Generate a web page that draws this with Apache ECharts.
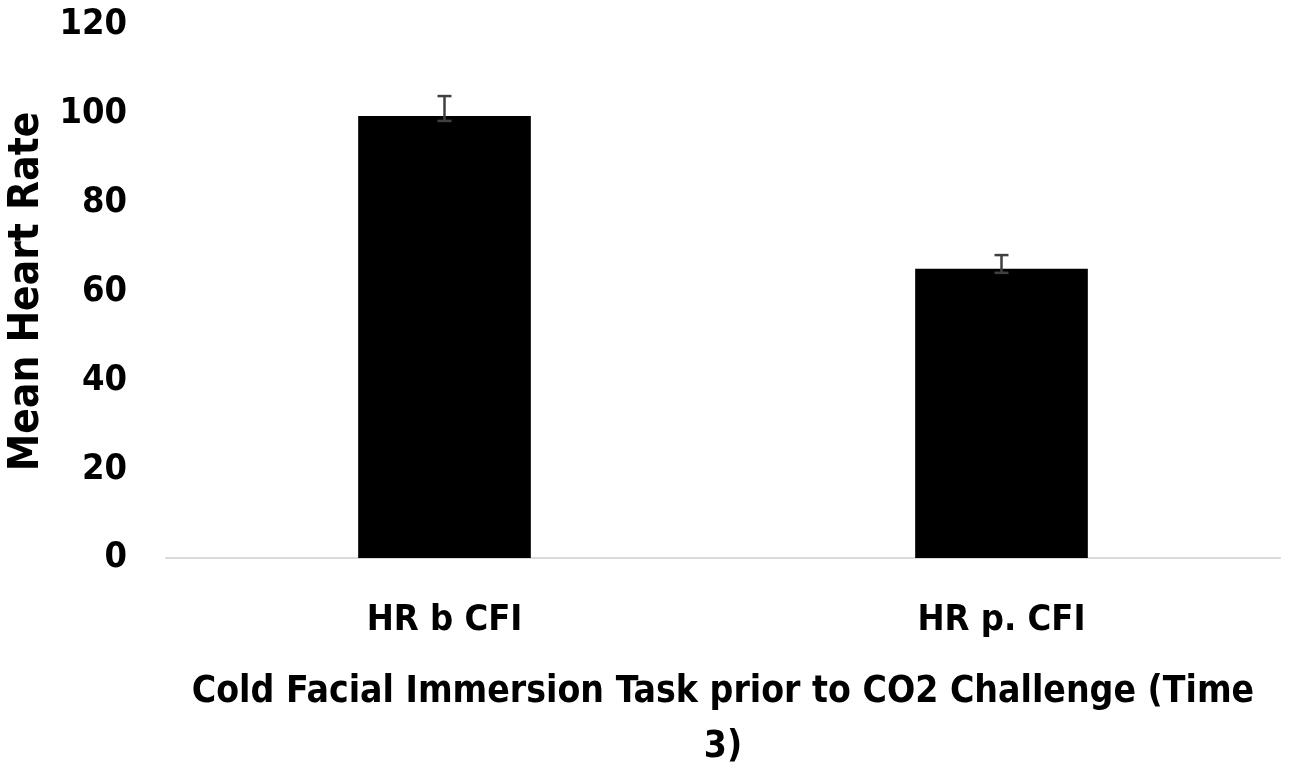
<!DOCTYPE html>
<html>
<head>
<meta charset="utf-8">
<script src="https://cdn.jsdelivr.net/npm/echarts@6/dist/echarts.min.js"></script>
<style>
  html, body { margin: 0; padding: 0; background: #fff; }
  #chart { width: 1299px; height: 782px; }
</style>
</head>
<body>
<div id="chart"></div>
<script>
const categories = ["HR b CFI", "HR p. CFI"];
const meanHR = [99.5, 65.1];
const errHigh = [104, 68.2];
const errLow = [98.4, 64.2];
const yTicks = [0, 20, 40, 60, 80, 100, 120];

const font = "'Liberation Sans Narrow', 'DejaVu Sans Condensed', sans-serif";

const chart = echarts.init(document.getElementById("chart"));

const opt = {
  animation: false,
  grid: {
    left: 166,
    right: 19,
    top: 25,
    bottom: 224,
    outerBoundsMode: "none",
  },
  xAxis: {
    type: "category",
    data: categories,
    name: "Cold Facial Immersion Task prior to CO2 Challenge (Time\n3)",
    nameLocation: "middle",
    nameGap: 107,
    nameTextStyle: {
      color: "#000",
      fontFamily: font,
      fontWeight: "bold",
      fontSize: 37,
      lineHeight: 55,
    },
    axisLine: { lineStyle: { color: "#d9d9d9", width: 2 } },
    axisTick: { show: false },
    axisLabel: {
      color: "#000",
      fontFamily: font,
      fontWeight: "bold",
      fontSize: 36,
      margin: 45,
    },
  },
  yAxis: {
    type: "value",
    min: yTicks[0],
    max: yTicks[yTicks.length - 1],
    interval: 20,
    name: "Mean Heart Rate",
    nameLocation: "middle",
    nameGap: 116,
    nameTextStyle: {
      color: "#000",
      fontFamily: font,
      fontWeight: "bold",
      fontSize: 42,
    },
    splitLine: { show: false },
    axisLine: { show: false },
    axisTick: { show: false },
    axisLabel: {
      color: "#000",
      fontFamily: font,
      fontWeight: "bold",
      fontSize: 36,
      margin: 39,
    },
  },
  series: [
    {
      type: "bar",
      data: meanHR,
      barWidth: "31%",
      itemStyle: { color: "#000" },
      z: 2,
    },
    {
      // error bars
      type: "custom",
      data: categories.map((c, i) => [i, errLow[i], errHigh[i]]),
      z: 3,
      renderItem: (params, api) => {
        const lo = api.coord([api.value(0), api.value(1)]);
        const hi = api.coord([api.value(0), api.value(2)]);
        const half = 7;
        const style = { stroke: "#404040", lineWidth: 2.5 };
        return {
          type: "group",
          children: [
            { type: "line", shape: { x1: hi[0], y1: hi[1], x2: lo[0], y2: lo[1] }, style },
            { type: "line", shape: { x1: hi[0] - half, y1: hi[1], x2: hi[0] + half, y2: hi[1] }, style },
            { type: "line", shape: { x1: lo[0] - half, y1: lo[1], x2: lo[0] + half, y2: lo[1] }, style },
          ],
        };
      },
    },
  ],
};

chart.setOption(opt);
</script>
</body>
</html>
